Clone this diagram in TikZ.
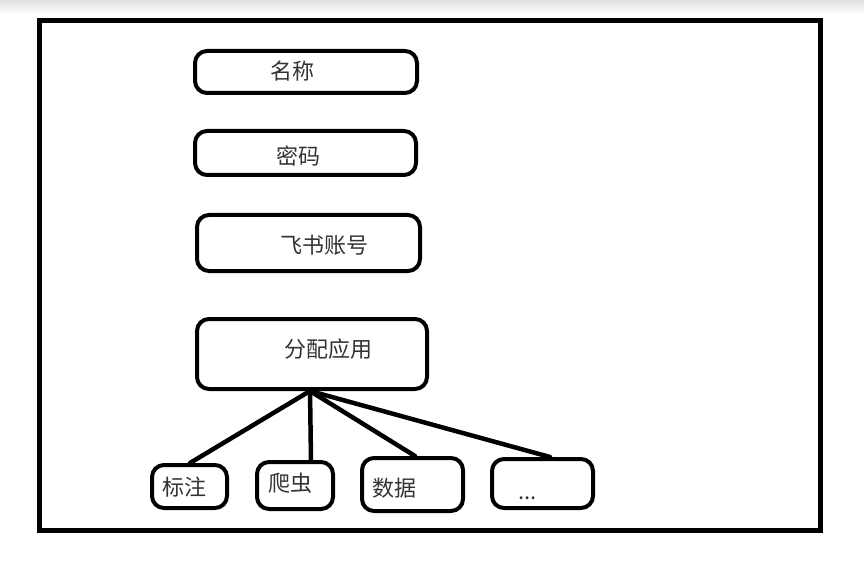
\documentclass[tikz,border=0pt]{standalone}
\usepackage{fontspec}
\newfontfamily\cjk{Noto Sans CJK SC}
\usetikzlibrary{positioning,calc}
\definecolor{textgray}{HTML}{333333}
\definecolor{bandgray}{HTML}{E2E2E2}

\begin{document}
\begin{tikzpicture}[
  x=1pt,y=-1pt,
  frame/.style={draw=black,line width=5pt,inner sep=0pt},
  box/.style={
    draw=black,line width=4pt,fill=white,
    rounded corners=12pt,inner sep=0pt
  },
  txt/.style={text=textgray,inner sep=0pt,
    font=\cjk\fontsize{22}{26}\selectfont},
  link/.style={draw=black,line width=4.5pt,line cap=round}
]
\useasboundingbox (0,0) rectangle (864,569);
\shade[top color=bandgray,bottom color=white] (0,0) rectangle (864,14);

\node[frame,minimum width=780.5pt,minimum height=509pt] (sheet) at (429.75,275.5) {};

% account fields
\node[box,minimum width=222pt,minimum height=42pt,
  label={[txt,xshift=-13.5pt,yshift=1pt]center:名称}] (name) at (306,72) {};
\node[box,minimum width=221pt,minimum height=44pt,
  label={[txt,xshift=-7pt,yshift=-3pt]center:密码}] (password) at (305.5,153) {};
\node[box,minimum width=223pt,minimum height=56pt,
  label={[txt,xshift=15.5pt,yshift=-2pt]center:飞书账号}] (feishu) at (308.5,243) {};
\node[box,minimum width=230pt,minimum height=70pt,
  label={[txt,xshift=16.5pt,yshift=4.5pt]center:分配应用}] (assign) at (312,354) {};

% applications
\node[box,minimum width=75pt,minimum height=43pt,
  label={[txt,xshift=-5pt,yshift=-0.5pt]center:标注}] (annotate) at (189.5,486.5) {};
\node[box,minimum width=76pt,minimum height=47pt,
  label={[txt,xshift=-4.5pt,yshift=2.5pt]center:爬虫}] (crawler) at (295,485.5) {};
\node[box,minimum width=101pt,minimum height=53pt,
  label={[txt,xshift=-18pt,yshift=-3.5pt]center:数据}] (data) at (412.5,484.5) {};
\node[box,minimum width=101pt,minimum height=49pt,
  label={[txt,xshift=-15pt,yshift=-14.5pt]center:...}] (more) at (542.5,483.5) {};

\coordinate (hub) at ([xshift=-2pt]assign.south);
\draw[link] (hub) -- ([xshift=0.5pt]annotate.north);
\draw[link] (hub) -- ([xshift=16pt]crawler.north);
\draw[link] (hub) -- ([xshift=2.5pt]data.north);
\draw[link] (hub) -- ([xshift=7.5pt]more.north);

\end{tikzpicture}
\end{document}
